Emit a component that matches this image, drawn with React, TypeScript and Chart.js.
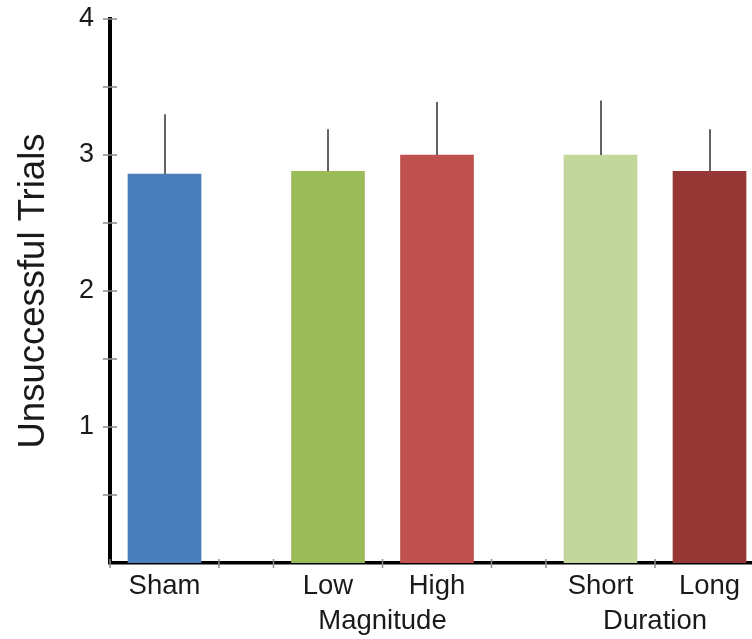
import { useEffect, useRef } from 'react';
import { Chart, registerables } from 'chart.js';

Chart.register(...registerables);

// ---- data ----
const categories = ['Sham', 'Low', 'High', 'Short', 'Long'];
const slotCenters = [0.5, 2, 3, 4.5, 5.5];
const means = [2.86, 2.88, 3.0, 3.0, 2.88];
const errors = [0.44, 0.31, 0.39, 0.4, 0.31];
const barColors = ['#4A7EBB', '#9BBB59', '#C0504D', '#C3D69B', '#953735'];
const slotBoundaries = [0, 1, 1.5, 2.5, 3.5, 4, 5, 6];
const groupLabels = ['Magnitude', 'Duration'];
const groupCenters = [2.5, 5];
const yMinorTicks = [0.5, 1, 1.5, 2, 2.5, 3, 3.5, 4];

const FONT = '"Liberation Sans", Arial, sans-serif';

const extrasPlugin = {
  id: 'extras',
  afterDraw(chart: any) {
    const ctx = chart.ctx;
    const x = chart.scales.x;
    const y = chart.scales.y;
    ctx.save();
    // error bars (upper only)
    ctx.strokeStyle = '#626262';
    ctx.lineWidth = 2;
    slotCenters.forEach((v, i) => {
      const px = Math.round(x.getPixelForValue(v));
      ctx.beginPath();
      ctx.moveTo(px, y.getPixelForValue(means[i]));
      ctx.lineTo(px, y.getPixelForValue(means[i] + errors[i]));
      ctx.stroke();
    });
    // y minor cross ticks
    ctx.strokeStyle = '#8a8a8a';
    ctx.lineWidth = 1.5;
    const ax = x.left;
    yMinorTicks.forEach((v) => {
      const py = y.getPixelForValue(v);
      ctx.beginPath();
      ctx.moveTo(ax - 7, py);
      ctx.lineTo(ax + 7, py);
      ctx.stroke();
    });
    // x boundary ticks
    const ay = y.bottom;
    slotBoundaries.forEach((v) => {
      const px = x.getPixelForValue(v);
      ctx.beginPath();
      ctx.moveTo(px, ay - 4);
      ctx.lineTo(px, ay + 5);
      ctx.stroke();
    });
    // group labels
    ctx.fillStyle = '#1a1a1a';
    ctx.font = `27.5px ${FONT}`;
    ctx.textAlign = 'center';
    ctx.textBaseline = 'alphabetic';
    groupLabels.forEach((g, i) => {
      ctx.fillText(g, x.getPixelForValue(groupCenters[i]), 629);
    });
    ctx.restore();
  },
};

export default function App() {
  const ref = useRef<HTMLCanvasElement>(null);
  useEffect(() => {
    document.body.style.margin = '0';
    const chart = new Chart(ref.current as HTMLCanvasElement, {
      type: 'bar',
      data: {
        datasets: [
          {
            data: slotCenters.map((v, i) => ({ x: v, y: means[i] })) as any,
            backgroundColor: barColors,
            borderWidth: 0,
            barThickness: 73,
          },
        ],
      },
      options: {
        animation: false,
        responsive: false,
        layout: { padding: { top: 19, left: 0, right: 0, bottom: 0 } },
        plugins: { legend: { display: false }, tooltip: { enabled: false } },
        scales: {
          x: {
            type: 'linear',
            min: 0,
            max: 6,
            offset: false,
            afterBuildTicks: (s: any) => {
              s.ticks = slotCenters.map((v) => ({ value: v }));
            },
            afterFit: (s: any) => {
              s.height = 76;
              s.paddingLeft = 0;
              s.paddingRight = 0;
            },
            ticks: {
              autoSkip: false,
              maxRotation: 0,
              padding: 7,
              color: '#1a1a1a',
              font: { size: 27.5, family: FONT },
              callback: (_v: any, i: number) => categories[i],
            },
            grid: { display: false, drawTicks: false },
            border: { display: true, color: '#000', width: 3.5 },
          } as any,
          y: {
            min: 0,
            max: 4,
            afterFit: (s: any) => {
              s.width = 110;
              s.paddingTop = 0;
              s.paddingBottom = 0;
            },
            ticks: {
              stepSize: 1,
              padding: 16,
              color: '#1a1a1a',
              font: { size: 27, family: FONT },
              callback: (v: any) => (v === 0 ? '' : String(v)),
            },
            grid: { display: false, drawTicks: false },
            border: { display: true, color: '#000', width: 4 },
            title: {
              display: true,
              text: 'Unsuccessful Trials',
              color: '#1a1a1a',
              font: { size: 36.5, family: FONT },
              padding: { top: 12, bottom: 0 },
            },
          } as any,
        },
      },
      plugins: [extrasPlugin],
    });
    return () => chart.destroy();
  }, []);
  return (
    <div style={{ width: 752, height: 639, overflow: 'hidden', background: '#fff' }}>
      <canvas ref={ref} width={764} height={639} style={{ display: 'block' }} />
    </div>
  );
}
